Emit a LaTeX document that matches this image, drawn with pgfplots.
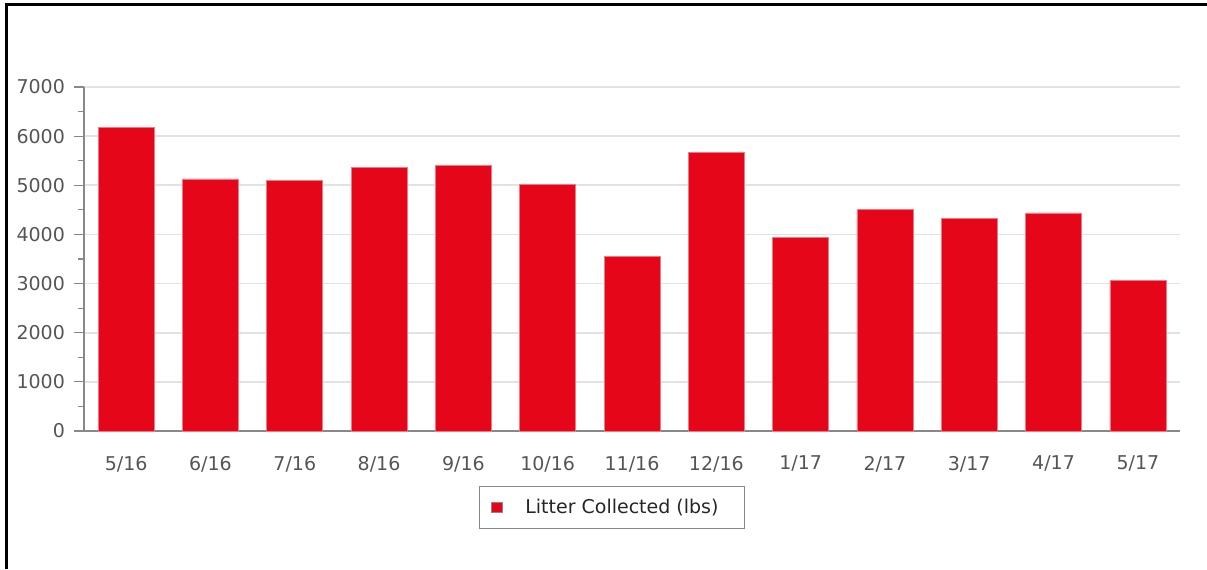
\documentclass[border=0pt]{standalone}
\usepackage{fontspec}
\setmainfont{DejaVu Sans}
\usepackage{pgfplots}
\pgfplotsset{compat=1.18}
\definecolor{barred}{RGB}{229,6,25}
\definecolor{barline}{RGB}{240,120,130}
\definecolor{gridc}{RGB}{226,226,226}
\definecolor{axisc}{RGB}{136,136,136}
\definecolor{labc}{RGB}{85,85,85}
\begin{document}
\begin{tikzpicture}
\useasboundingbox (0,0) rectangle (603.5pt,284.5pt);
\begin{axis}[
  at={(42pt,69pt)}, anchor=south west,
  scale only axis, width=548pt, height=172pt,
  xmin=-0.5, xmax=12.5, ymin=0, ymax=7000,
  xtick=data,
  xticklabels={5/16,6/16,7/16,8/16,9/16,10/16,11/16,12/16,1/17,2/17,3/17,4/17,5/17},
  ytick={0,1000,...,7000},
  minor ytick={500,1500,...,6500},
  axis x line*=bottom, axis y line*=left,
  axis line style={axisc, line width=0.6pt, -},
  x axis line style={shorten <=-5pt},
  tick align=outside,
  major tick length=5pt, minor tick length=3pt,
  xtick style={draw=none},
  ytick style={axisc, line width=0.6pt},
  ymajorgrids, major grid style={gridc, line width=0.8pt},
  /pgf/number format/assume math mode=true,
  /pgf/number format/1000 sep={},
  tick label style={font=\fontsize{9.5}{11}\selectfont, text=labc},
  yticklabel style={xshift=-1pt},
  xticklabel style={yshift=-4pt},
  legend style={at={(0.4818,-0.2224)}, anchor=center, draw=axisc, line width=0.6pt,
    font=\fontsize{9.5}{11}\selectfont, text=black!85, inner xsep=4pt, inner ysep=4pt},
  legend image code/.code={\path[draw=none,fill=none] (-2pt,0) -- (14.9pt,0);\draw[fill=barred, draw=axisc, line width=0.5pt] (0pt,-2.7pt) rectangle (5.4pt,2.7pt);},
  legend cell align=left,
]
\addplot[ybar, bar width=28pt, fill=barred, draw=barline, line width=0.3pt, bar shift=0pt]
  coordinates {(0,6170) (1,5130) (2,5095) (3,5360) (4,5400) (5,5020) (6,3550) (7,5665) (8,3940) (9,4510) (10,4320) (11,4440) (12,3060)};
\addlegendentry{Litter Collected (lbs)\kern7pt}
\end{axis}
\draw[black, line width=1.5pt] (3.25pt,0) -- (3.25pt,282pt) -- (603.5pt,282pt);
\end{tikzpicture}
\end{document}
